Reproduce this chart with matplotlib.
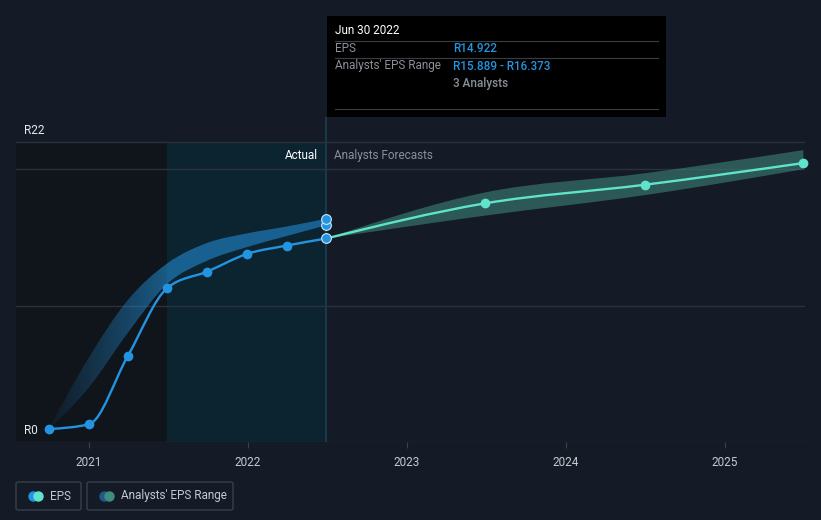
"""EPS actual vs analyst forecast chart, dark theme."""
import matplotlib

matplotlib.use("Agg")
import matplotlib.pyplot as plt  # noqa: E402
import numpy as np  # noqa: E402
import pandas as pd  # noqa: E402
from matplotlib.colors import to_rgb  # noqa: E402
from matplotlib.path import Path  # noqa: E402
from matplotlib.patches import PathPatch, Rectangle, FancyBboxPatch  # noqa: E402

plt.rcParams["font.family"] = ["Roboto", "DejaVu Sans"]

# --- data -------------------------------------------------------------
eps_dates = ["2020-09-30", "2020-12-31", "2021-03-31", "2021-06-30",
             "2021-09-30", "2021-12-31", "2022-03-31", "2022-06-30"]
eps_values = [0.95, 1.3, 6.3, 11.3, 12.5, 13.8, 14.4, 14.922]

past_range_dates = ["2020-09-30", "2020-12-31", "2021-03-31", "2021-06-30",
                    "2021-09-30", "2021-12-31", "2022-03-31", "2022-06-30"]
past_range_low = [0.95, 4.0, 8.0, 11.6, 13.3, 14.3, 15.1, 15.889]
past_range_high = [0.95, 6.2, 10.4, 13.1, 14.6, 15.3, 15.8, 16.373]

fc_dates = ["2022-06-30", "2023-06-30", "2024-06-30", "2025-06-30"]
fc_values = [14.922, 17.5, 18.86, 20.45]
fc_low = [14.922, 16.6, 18.1, 20.0]
fc_high = [14.922, 18.3, 19.7, 21.4]

year_ticks = [2021, 2022, 2023, 2024, 2025]
grid_values = [10, 20, 22]

BG = "#151b26"
BLUE = "#2394df"
MINT = "#5fe3cb"


def dec_year(dates):
    d = pd.to_datetime(pd.Series(dates))
    return (d.dt.year + (d.dt.dayofyear - 1) / 365.25).to_numpy()


def monotone_path(x, y):
    """Cubic bezier vertices/codes for a monotone-x curve (d3 style)."""
    x = np.asarray(x, float)
    y = np.asarray(y, float)
    n = len(x)
    h = np.diff(x)
    s = np.diff(y) / h
    t = np.zeros(n)
    for i in range(1, n - 1):
        p = (s[i - 1] * h[i] + s[i] * h[i - 1]) / (h[i - 1] + h[i])
        t[i] = (np.sign(s[i - 1]) + np.sign(s[i])) * min(abs(s[i - 1]), abs(s[i]), 0.5 * abs(p))
    t[0] = (3 * s[0] - t[1]) / 2 if n > 2 else s[0]
    t[-1] = (3 * s[-1] - t[-2]) / 2 if n > 2 else s[-1]
    verts = [(x[0], y[0])]
    codes = [Path.MOVETO]
    for i in range(n - 1):
        d = h[i] / 3
        verts += [(x[i] + d, y[i] + d * t[i]), (x[i + 1] - d, y[i + 1] - d * t[i + 1]), (x[i + 1], y[i + 1])]
        codes += [Path.CURVE4] * 3
    return verts, codes


def band_patch(x, lo, hi, **kw):
    v1, c1 = monotone_path(x, hi)
    v2, c2 = monotone_path(x[::-1], lo[::-1])
    c2 = [Path.LINETO] + c2[1:]
    verts = v1 + v2 + [v1[0]]
    codes = c1 + c2 + [Path.CLOSEPOLY]
    return PathPatch(Path(verts, codes), **kw)


ex = dec_year(eps_dates)
px = dec_year(past_range_dates)
fx = dec_year(fc_dates)

fig = plt.figure(figsize=(8.21, 5.2), dpi=100, facecolor=BG)
W, H = 821, 520
ax = fig.add_axes([16 / W, (H - 442) / H, (805 - 16) / W, (442 - 117) / H])
ax.set_facecolor(BG)
x0 = 2021 + (16 - 89) / 159
x1 = 2021 + (805 - 89) / 159
ytop = (442 - 117) / 13.64
ax.set_xlim(x0, x1)
ax.set_ylim(0, ytop)

now = fx[0]
ax.fill_between([x0, ex[3]], 0, grid_values[-1], color="#10141b", zorder=0, lw=0)
ax.fill_between([ex[3], now], 0, grid_values[-1], color="#0c2330", zorder=0, lw=0)
ax.axvline(now, color="#1d3f52", lw=1.2, zorder=1)

for g in grid_values:
    ax.axhline(g, color="#2b313c", lw=1, zorder=1)
ax.axhline(0, color="#2b313c", lw=1, zorder=1)

# past analyst band with a fade-in gradient
past_band = band_patch(px, np.array(past_range_low), np.array(past_range_high),
                       facecolor="none", lw=0, zorder=2)
ax.add_patch(past_band)
grad = np.zeros((2, 256, 4))
grad[..., :3] = to_rgb(BLUE)
ramp = np.clip((np.linspace(px[0], px[-1], 256) - px[0]) / (ex[3] - px[0]), 0, 1)
grad[..., 3] = 0.05 + 0.5 * ramp
img = ax.imshow(grad, extent=[px[0], px[-1], 0, past_range_high[-1] + 1], aspect="auto",
                origin="lower", zorder=2, interpolation="bilinear")
img.set_clip_path(past_band)

ax.add_patch(band_patch(fx, np.array(fc_low), np.array(fc_high),
                        facecolor="#3f8c80", alpha=0.55, lw=0, zorder=2))

v, c = monotone_path(ex, eps_values)
ax.add_patch(PathPatch(Path(v, c), facecolor="none", edgecolor=BLUE, lw=1.7, zorder=3))
v, c = monotone_path(fx, fc_values)
ax.add_patch(PathPatch(Path(v, c), facecolor="none", edgecolor=MINT, lw=1.7, zorder=3))

ax.plot(ex[:-1], eps_values[:-1], "o", color=BLUE, ms=6, zorder=4, clip_on=False)
ax.plot(fx[1:], fc_values[1:], "o", color=MINT, ms=6, zorder=4, clip_on=False)
ax.plot([now] * 3, [eps_values[-1], past_range_low[-1], past_range_high[-1]], "o",
        color=BLUE, mec="#cfe6f7", mew=0.8, ms=7, zorder=5, clip_on=False)

ax.set_xlim(x0, x1)
ax.set_ylim(0, ytop)

ax.text(now - 0.05, 21.0, "Actual", color="#ffffff", fontsize=8.5, ha="right", va="center")
ax.text(now + 0.05, 21.0, "Analysts Forecasts", color="#8a8f98", fontsize=8.5, ha="left", va="center")

ax.set_xticks(year_ticks)
ax.set_xticklabels([str(y) for y in year_ticks])
ax.tick_params(axis="x", colors="#3a404b", labelcolor="#c5c8ce", labelsize=8.5, length=4, pad=6)
ax.set_yticks([])
for sp in ax.spines.values():
    sp.set_visible(False)

fig.text(24 / W, 1 - 130 / H, "R22", color="#e6e8eb", fontsize=8.5, va="center")
fig.text(24 / W, 1 - 430 / H, "R0", color="#e6e8eb", fontsize=8.5, va="center")

# tooltip
fig.patches.append(Rectangle((327 / W, 1 - 117 / H), (666 - 327) / W, (117 - 16) / H,
                             transform=fig.transFigure, facecolor="#000000", lw=0, zorder=10))
for yy in [41, 58, 109]:
    fig.add_artist(plt.Line2D([335 / W, 658 / W], [1 - yy / H] * 2, color="#3a3d42", lw=0.8, zorder=11))
fig.text(335 / W, 1 - 31 / H, "Jun 30 2022", color="#ffffff", fontsize=8.5, va="center", zorder=12)
fig.text(335 / W, 1 - 49 / H, "EPS", color="#8a8f98", fontsize=8.5, va="center", zorder=12)
fig.text(335 / W, 1 - 66 / H, "Analysts' EPS Range", color="#8a8f98", fontsize=8.5, va="center", zorder=12)
fig.text(453 / W, 1 - 49 / H, f"R{eps_values[-1]:.3f}", color=BLUE, fontsize=8.5, va="center",
         zorder=12, fontweight="medium")
fig.text(453 / W, 1 - 66 / H, f"R{past_range_low[-1]:.3f} - R{past_range_high[-1]:.3f}", color=BLUE,
         fontsize=8.5, va="center", zorder=12, fontweight="medium")
fig.text(453 / W, 1 - 83 / H, "3 Analysts", color="#8a8f98", fontsize=8.5, va="center", zorder=12,
         fontweight="medium")

# legend
for (lx, lw_, label, c1, c2) in [(16, 65, "EPS", BLUE, MINT),
                                 (87, 146, "Analysts' EPS Range", "#1f5a86", "#3f8c80")]:
    fig.patches.append(FancyBboxPatch((lx / W, 1 - 510 / H), lw_ / W, 28 / H,
                                      boxstyle="round,pad=0,rounding_size=0.003",
                                      transform=fig.transFigure, facecolor="none",
                                      edgecolor="#3a3f4a", lw=1))
    fig.add_artist(plt.Line2D([(lx + 17) / W], [1 - 496 / H], marker="o", color=c1, ms=6.5, lw=0))
    fig.add_artist(plt.Line2D([(lx + 22) / W], [1 - 496 / H], marker="o", color=c2, ms=6.5, lw=0))
    fig.text((lx + 34) / W, 1 - 496 / H, label, color="#c5c8ce", fontsize=8.5, va="center")

fig.savefig("out.png", dpi=100, facecolor=BG)
